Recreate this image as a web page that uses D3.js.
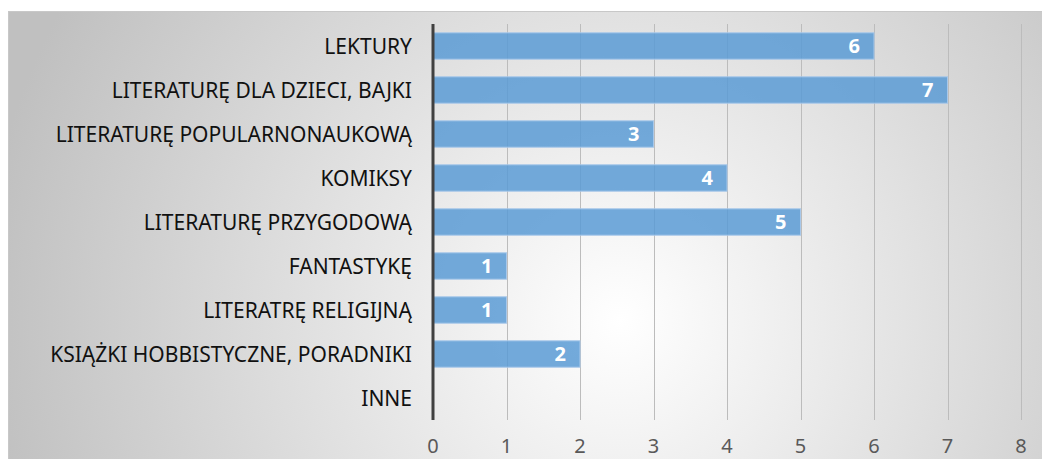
<!DOCTYPE html>
<html>
<head>
<meta charset="utf-8">
<script src="https://cdn.jsdelivr.net/npm/d3@7"></script>
<style>
body { margin: 0; background: #fff; }
svg text { font-family: "Noto Sans", "DejaVu Sans", sans-serif; }
</style>
</head>
<body>
<div id="chart"></div>
<script>
var categories = ["LEKTURY", "LITERATURĘ DLA DZIECI, BAJKI", "LITERATURĘ POPULARNONAUKOWĄ", "KOMIKSY",
  "LITERATURĘ PRZYGODOWĄ", "FANTASTYKĘ", "LITERATRĘ RELIGIJNĄ", "KSIĄŻKI HOBBISTYCZNE, PORADNIKI", "INNE"];
var values = [6, 7, 3, 4, 5, 1, 1, 2, 0];
var xTicks = [0, 1, 2, 3, 4, 5, 6, 7, 8];

var data = categories.map(function(c, i) { return {cat: c, val: values[i]}; });

var W = 1042, H = 459;
var margin = {top: 24, right: 21, bottom: 39, left: 433},
  width = W - margin.left - margin.right,
  height = H - margin.top - margin.bottom;

var svg = d3.select("#chart").append("svg")
  .attr("width", W).attr("height", H);

// background gradient
var defs = svg.append("defs");
var grad = defs.append("radialGradient").attr("id", "bg")
  .attr("gradientUnits", "userSpaceOnUse")
  .attr("cx", 620).attr("cy", 320).attr("r", 640);
grad.append("stop").attr("offset", "0%").attr("stop-color", "#ffffff");
grad.append("stop").attr("offset", "100%").attr("stop-color", "#c0c0c0");

svg.append("rect").attr("x", 8).attr("y", 11).attr("width", W - 8).attr("height", H - 11)
  .attr("fill", "url(#bg)");
svg.append("line").attr("x1", 8).attr("x2", W).attr("y1", 11.5).attr("y2", 11.5)
  .attr("stroke", "#c8c8c8");
svg.append("line").attr("x1", 8.5).attr("x2", 8.5).attr("y1", 11).attr("y2", H)
  .attr("stroke", "#c8c8c8");

var g = svg.append("g").attr("transform", "translate(" + margin.left + "," + margin.top + ")");

var x = d3.scaleLinear().domain([0, 8]).range([0, width]);
var y = d3.scaleBand().domain(categories).range([0, height]).paddingInner(0.4).paddingOuter(0.2);

// gridlines
g.selectAll("line.grid").data(xTicks.slice(1)).enter().append("line")
  .attr("class", "grid")
  .attr("x1", function(d) { return Math.round(x(d)) + 0.5; })
  .attr("x2", function(d) { return Math.round(x(d)) + 0.5; })
  .attr("y1", 0).attr("y2", height)
  .attr("stroke", "#bcbcbc").attr("stroke-width", 1);

var nonzero = data.filter(function(d) { return d.val > 0; });

// bars
g.selectAll("rect.bar").data(nonzero).enter().append("rect")
  .attr("class", "bar")
  .attr("x", x(0))
  .attr("y", function(d) { return y(d.cat); })
  .attr("width", function(d) { return x(d.val) - x(0); })
  .attr("height", y.bandwidth())
  .attr("fill", "#5b9bd5").attr("fill-opacity", 0.85)
  .attr("stroke", "#a8c8ea").attr("stroke-width", 1);

// value labels
g.selectAll("text.val").data(nonzero).enter().append("text")
  .attr("class", "val")
  .attr("x", function(d) { return x(d.val) - 14; })
  .attr("y", function(d) { return y(d.cat) + y.bandwidth() / 2; })
  .attr("dy", "0.36em")
  .attr("text-anchor", "end")
  .attr("fill", "#fff").attr("font-weight", "bold").attr("font-size", "20px")
  .text(function(d) { return d.val; });

// category labels
g.selectAll("text.cat").data(data).enter().append("text")
  .attr("class", "cat")
  .attr("x", -21)
  .attr("y", function(d) { return y(d.cat) + y.bandwidth() / 2; })
  .attr("dy", "0.36em")
  .attr("text-anchor", "end")
  .attr("fill", "#111").attr("font-size", "21px")
  .text(function(d) { return d.cat; });

// axis line
g.append("line").attr("x1", 0).attr("x2", 0).attr("y1", 0).attr("y2", height)
  .attr("stroke", "#404040").attr("stroke-width", 3);

// x tick labels
g.selectAll("text.tick").data(xTicks).enter().append("text")
  .attr("class", "tick")
  .attr("x", function(d) { return x(d); })
  .attr("y", height + 33)
  .attr("text-anchor", "middle")
  .attr("fill", "#595959").attr("font-size", "20px")
  .text(function(d) { return d; });
</script>
</body>
</html>
